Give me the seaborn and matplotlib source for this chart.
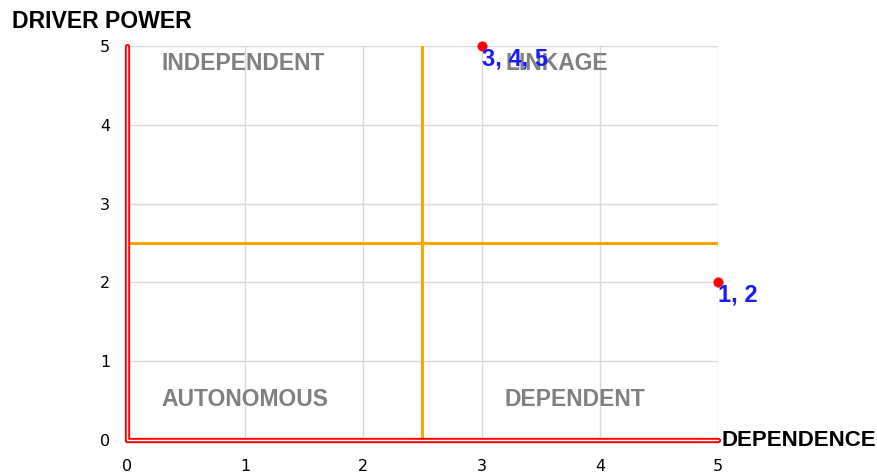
import pandas as pd
import seaborn as sns
import matplotlib.pyplot as plt

# Data
dependence = [5, 3]
driver_power = [2, 5]
point_labels = ["1, 2", "3, 4, 5"]
quadrants = ["INDEPENDENT", "LINKAGE", "AUTONOMOUS", "DEPENDENT"]
quad_x = [0.29, 3.2, 0.29, 3.19]
quad_y = [4.78, 4.78, 0.52, 0.52]
ticks = [0, 1, 2, 3, 4, 5]

df = pd.DataFrame({"dependence": dependence, "driver": driver_power, "label": point_labels})

sns.set_style("white")
fig = plt.figure(figsize=(8.78, 4.75), dpi=100)
ax = fig.add_axes([0.1446, 0.0737, 0.6732, 0.8295])

ax.set_xlim(0, 5)
ax.set_ylim(0, 5)
ax.set_xticks(ticks)
ax.set_yticks(ticks)
ax.grid(True, color="#d9d9d9", linewidth=1)
for s in ax.spines.values():
    s.set_visible(False)

# double red axes lines
ax.axvline(0, color="red", linewidth=3.8, zorder=3, clip_on=False)
ax.axvline(0, color="white", linewidth=1, zorder=3.1, clip_on=False)
ax.axhline(0, color="red", linewidth=3.8, zorder=3, clip_on=False)
ax.axhline(0, color="white", linewidth=1, zorder=3.1, clip_on=False)

# quadrant dividers
ax.axvline(2.5, color="#FFA500", linewidth=2.2, zorder=2)
ax.axhline(2.5, color="#FFA500", linewidth=2.2, zorder=2)

for name, qx, qy in zip(quadrants, quad_x, quad_y):
    ax.text(qx, qy, name, color="#808080", fontsize=16.5, fontweight="bold",
            family="Liberation Sans", ha="left", va="center", zorder=4)

sns.scatterplot(data=df, x="dependence", y="driver", ax=ax, color="red",
                s=45, edgecolor="red", zorder=5, clip_on=False, legend=False)
for _, r in df.iterrows():
    ax.annotate(r["label"], (r["dependence"], r["driver"]), xytext=(0, -1),
                textcoords="offset points", ha="left", va="top", color="#1a1aff",
                fontsize=17, fontweight="bold", family="Liberation Sans", zorder=6)

ax.set_xlabel("")
ax.set_ylabel("")
ax.tick_params(axis="x", labelsize=11.5, length=0, pad=14, labelcolor="black")
ax.tick_params(axis="y", labelsize=11.5, length=0, pad=12, labelcolor="black")

fig.text(12 / 878, 1 - 22 / 475, "DRIVER POWER", fontsize=16.6, fontweight="bold",
         family="Liberation Sans", ha="left", va="center", color="black")
fig.text(722 / 878, 1 - 441 / 475, "DEPENDENCE", fontsize=16, fontweight="bold",
         family="Liberation Sans", ha="left", va="center", color="black")

fig.savefig("out.png", dpi=100)
